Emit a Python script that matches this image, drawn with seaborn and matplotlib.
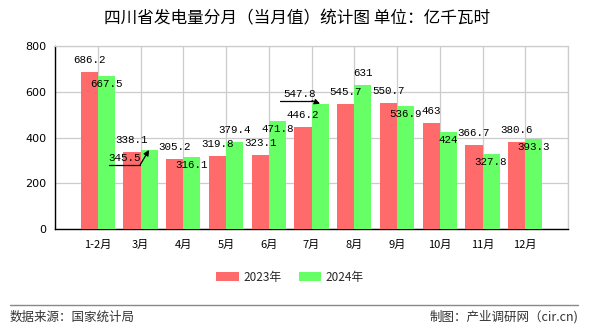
import matplotlib
matplotlib.use("Agg")
import matplotlib.pyplot as plt
import matplotlib.transforms as mtransforms
from matplotlib.lines import Line2D
from matplotlib.patches import Patch
import seaborn as sns
import pandas as pd

# ---------------- data ----------------
months = ["1-2月", "3月", "4月", "5月", "6月", "7月", "8月", "9月", "10月", "11月", "12月"]
series = ["2023年", "2024年"]
v2023 = [686.2, 338.1, 305.2, 319.8, 323.1, 446.2, 545.7, 550.7, 463, 366.7, 380.6]
v2024 = [667.5, 345.5, 316.1, 379.4, 471.8, 547.8, 631, 536.9, 424, 327.8, 393.3]
yticks = [0, 200, 400, 600, 800]
title = "四川省发电量分月（当月值）统计图 单位：亿千瓦时"
source = "数据来源：国家统计局"
maker = "制图：产业调研网（cir.cn)"

# ---------------- style ----------------
colors = ["#FF6B6B", "#66FF66"]
# label placement: 'a' above bar, 'b' just inside top, 'L'/'H' leader-arrow labels
place = [
    ["a"] * 11,
    ["b", "L", "b", "a", "b", "H", "a", "b", "b", "b", "b"],
]
CJK = ["Noto Sans CJK SC", "DejaVu Sans"]
MONO = "Liberation Mono"

df = pd.DataFrame({
    "month": months * 2,
    "value": v2023 + v2024,
    "year": [series[0]] * len(months) + [series[1]] * len(months),
})

sns.set_theme(style="white")
plt.rcParams["font.family"] = CJK

W, H = 590, 330
fig = plt.figure(figsize=(W / 100, H / 100), dpi=100)
ax = fig.add_axes([55 / W, 1 - 229 / H, (568 - 55) / W, (229 - 46) / H])

sns.barplot(data=df, x="month", y="value", hue="year", order=months,
            hue_order=series, palette=colors, width=0.8, saturation=1,
            ax=ax, legend=False, zorder=3, errorbar=None,
            linewidth=0, edgecolor="none")

ax.set_xlim(-1, len(months))
ax.set_ylim(yticks[0], yticks[-1])
ax.set_yticks(yticks)
ax.set_yticklabels([str(t) for t in yticks], fontsize=8, family="DejaVu Sans")
ax.set_xticks(range(-1, len(months) + 1))
ax.set_xticklabels([""] + months + [""], fontsize=8)
ax.set_xlabel("")
ax.set_ylabel("")

ax.grid(True, axis="both", color="#cccccc", linewidth=0.9, zorder=0)
ax.set_axisbelow(True)
for s in ["top", "right"]:
    ax.spines[s].set_color("#cccccc")
    ax.spines[s].set_linewidth(0.9)
for s in ["left", "bottom"]:
    ax.spines[s].set_color("black")
    ax.spines[s].set_linewidth(1.0)
ax.tick_params(axis="both", which="both", length=4, width=1, color="black",
               direction="out", pad=2, labelcolor="black")
ax.tick_params(axis="x", pad=4)

# ---------------- value labels ----------------
def disp(x, y):
    return ax.transData.transform((x, y))

for si, cont in enumerate(ax.containers[:2]):
    vals = v2023 if si == 0 else v2024
    for i, bar in enumerate(cont):
        x = bar.get_x() + bar.get_width() / 2
        y = bar.get_height()
        code = place[si][i]
        lbl = f"{vals[i]:g}"
        kw = dict(ha="center", va="center", fontsize=7.8, family=MONO,
                  color="black", textcoords="offset pixels", zorder=6)
        if code == "a":
            ax.annotate(lbl, (x, y), xytext=(0, 12), **kw)
        elif code == "b":
            ax.annotate(lbl, (x, y), xytext=(0, -8), **kw)
        else:
            if code == "L":
                tx, ty, ux0, ux1, uy = -24, -8, -40, -9, -15
            else:
                tx, ty, ux0, ux1, uy = -20, 10, -40, -8, 3
            ax.annotate(lbl, (x, y), xytext=(tx, ty), **kw)
            px, py = disp(x, y)
            fig.add_artist(Line2D([px + ux0, px + ux1], [py + uy, py + uy],
                                  transform=mtransforms.IdentityTransform(),
                                  color="black", lw=0.9, zorder=7))
            ax.annotate("", (x, y), xytext=(ux1, uy), textcoords="offset pixels",
                        arrowprops=dict(arrowstyle="-|>", color="black", lw=0.9,
                                        shrinkA=0, shrinkB=0, mutation_scale=8),
                        zorder=7)

# ---------------- title / legend / footer ----------------
fig.text(297 / W, 1 - 19 / H, title, ha="center", va="center", fontsize=12,
         color="black")

handles = [Patch(facecolor=c, edgecolor="none") for c in colors]
fig.legend(handles, series, loc="center", bbox_to_anchor=(290 / W, 1 - 277 / H),
           ncol=2, frameon=False, fontsize=8.5, handlelength=1.9, handleheight=0.75,
           handletextpad=0.35, columnspacing=1.5)

fig.add_artist(Line2D([10 / W, 578 / W], [1 - 305 / H, 1 - 305 / H],
                      transform=fig.transFigure, color="#888888", lw=1))
fig.text(10 / W, 1 - 317 / H, source, ha="left", va="center", fontsize=9,
         color="#333333")
fig.text(578 / W, 1 - 317 / H, maker, ha="right", va="center", fontsize=9,
         color="#333333")

fig.savefig("out.png", dpi=100)
